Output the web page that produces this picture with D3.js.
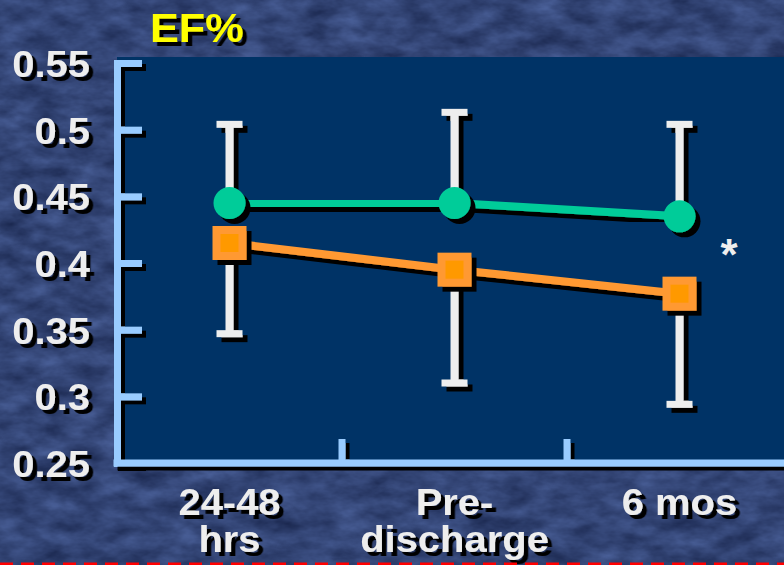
<!DOCTYPE html>
<html>
<head>
<meta charset="utf-8">
<script src="https://cdn.jsdelivr.net/npm/d3@7"></script>
<style>
  html, body { margin: 0; padding: 0; background: #34477a; }
  svg { display: block; }
  text { font-family: "Liberation Sans", Arial, sans-serif; font-weight: bold; }
</style>
</head>
<body>
<svg id="chart" width="784" height="565"></svg>
<script>
// Ejection fraction over follow-up, two groups
const categories = ["24-48 hrs", "Pre-discharge", "6 mos"];
const categoryLines = [["24-48", "hrs"], ["Pre-", "discharge"], ["6 mos"]];
const greenMeans = [0.445, 0.445, 0.435];
const greenUpper = [0.504, 0.513, 0.504];
const orangeMeans = [0.415, 0.395, 0.377];
const orangeLower = [0.347, 0.310, 0.294];
const yTicks = [0.25, 0.3, 0.35, 0.4, 0.45, 0.5, 0.55];
const yTickLabels = ["0.25", "0.3", "0.35", "0.4", "0.45", "0.5", "0.55"];

const W = 784, H = 565;
const svg = d3.select("#chart");
const defs = svg.append("defs");

// grainy stone backdrop
const stone = defs.append("filter").attr("id", "stone")
  .attr("x", 0).attr("y", 0).attr("width", "100%").attr("height", "100%")
  .attr("color-interpolation-filters", "sRGB");
stone.append("feTurbulence").attr("type", "fractalNoise")
  .attr("baseFrequency", "0.03 0.06").attr("numOctaves", 4).attr("seed", 7);
stone.append("feColorMatrix").attr("type", "matrix")
  .attr("values", "0.22 0 0 0 0.09  0.26 0 0 0 0.14  0.34 0 0 0 0.29  0 0 0 0 1");

// hard black drop shadows
function shadow(id, d) {
  const f = defs.append("filter").attr("id", id)
    .attr("x", "-20%").attr("y", "-20%").attr("width", "160%").attr("height", "160%");
  f.append("feDropShadow").attr("dx", d).attr("dy", d).attr("stdDeviation", 0)
    .attr("flood-color", "#000").attr("flood-opacity", 1);
}
shadow("sh5", 5);
shadow("sh4", 4);

svg.append("rect").attr("width", W).attr("height", H).attr("filter", "url(#stone)");

// scales
const x = d3.scaleBand().domain(categories).range([117, 792]).padding(0);
const y = d3.scaleLinear().domain([0.25, 0.55]).range([463, 63]);
const cx = c => x(c) + x.bandwidth() / 2;

// plot panel
svg.append("rect")
  .attr("x", x.range()[0]).attr("y", y(0.55) - 6)
  .attr("width", W - x.range()[0]).attr("height", y(0.25) - y(0.55) + 6)
  .attr("fill", "#003366");

const AXIS = "#99CCFF";
const TXT = "#EEEEEE";

// y axis
const yAxis = d3.axisLeft(y).tickValues(yTicks).tickSize(-25).tickSizeOuter(0).tickFormat("");
const gy = svg.append("g").attr("transform", `translate(${x.range()[0]},0)`)
  .attr("filter", "url(#sh4)").call(yAxis);
gy.select(".domain").attr("stroke", AXIS).attr("stroke-width", 7).attr("stroke-linecap", "square");
gy.selectAll(".tick line").attr("stroke", AXIS).attr("stroke-width", 7);

// x axis: baseline plus ticks at the band boundaries
const boundaries = categories.slice(1).map(c => x(c));
const gx = svg.append("g").attr("filter", "url(#sh4)");
gx.append("line")
  .attr("x1", x.range()[0] - 3.5).attr("x2", W + 10)
  .attr("y1", y(0.25)).attr("y2", y(0.25))
  .attr("stroke", AXIS).attr("stroke-width", 7);
gx.selectAll("line.bt").data(boundaries).join("line").attr("class", "bt")
  .attr("x1", d => d).attr("x2", d => d)
  .attr("y1", y(0.25)).attr("y2", y(0.25) - 24)
  .attr("stroke", AXIS).attr("stroke-width", 7);

// slightly widened bold text with a hard shadow; extra lines become tspans
const SX = 1.08;
function label(g, lines, tx, ty, size, anchor, color, lead) {
  const t = g.append("g").attr("transform", `translate(${tx},${ty}) scale(${SX},1)`)
    .append("text").attr("text-anchor", anchor)
    .attr("font-size", size).attr("fill", color)
    .attr("filter", "url(#sh4)");
  lines.forEach((ln, j) => t.append("tspan").attr("x", 0).attr("y", j * (lead || 0)).text(ln));
}

const labels = svg.append("g");
yTicks.forEach((v, i) => label(labels, [yTickLabels[i]], 90, y(v) + 14, 37, "end", TXT));
categories.forEach((c, i) => label(labels, categoryLines[i], cx(c), 515, 37, "middle", TXT, 37));
label(labels, ["EF%"], 150, 42, 40, "start", "#FFFF00");

// error bars
function errorBars(means, bounds) {
  const g = svg.append("g");
  categories.forEach((c, i) => {
    const b = g.append("g").attr("filter", "url(#sh5)");
    b.append("line").attr("x1", cx(c)).attr("x2", cx(c))
      .attr("y1", y(means[i])).attr("y2", y(bounds[i]))
      .attr("stroke", "#EEEEEE").attr("stroke-width", 8);
    b.append("line").attr("x1", cx(c) - 13).attr("x2", cx(c) + 13)
      .attr("y1", y(bounds[i])).attr("y2", y(bounds[i]))
      .attr("stroke", "#EEEEEE").attr("stroke-width", 7);
  });
}
errorBars(greenMeans, greenUpper);
errorBars(orangeMeans, orangeLower);

// series lines
const line = d3.line().x((d, i) => cx(categories[i])).y(d => y(d));
svg.append("path").datum(orangeMeans).attr("d", line)
  .attr("fill", "none").attr("stroke", "#FF9933").attr("stroke-width", 8)
  .attr("filter", "url(#sh5)");
svg.append("path").datum(greenMeans).attr("d", line)
  .attr("fill", "none").attr("stroke", "#00CC99").attr("stroke-width", 8)
  .attr("filter", "url(#sh5)");

// markers
svg.append("g").selectAll("circle").data(greenMeans).join("circle")
  .attr("cx", (d, i) => cx(categories[i])).attr("cy", d => y(d)).attr("r", 16)
  .attr("fill", "#00CC99").attr("filter", "url(#sh5)");

const sq = svg.append("g").selectAll("g").data(orangeMeans).join("g")
  .attr("transform", (d, i) => `translate(${cx(categories[i])},${y(d)})`);
sq.append("rect").attr("x", -17).attr("y", -17).attr("width", 34).attr("height", 34)
  .attr("fill", "#FF9933").attr("filter", "url(#sh5)");
sq.append("rect").attr("x", -9).attr("y", -9).attr("width", 18).attr("height", 18)
  .attr("fill", "#FF9900");

// significance marker
svg.append("text").attr("x", 729).attr("y", 270).attr("text-anchor", "middle")
  .attr("font-size", 44).attr("fill", "#EEEEEE").text("*");

// dashed red rule along the bottom edge
svg.append("line").attr("x1", 0).attr("x2", W).attr("y1", 564).attr("y2", 564)
  .attr("stroke", "#FF0000").attr("stroke-width", 3).attr("stroke-dasharray", "13 8");
</script>
</body>
</html>
